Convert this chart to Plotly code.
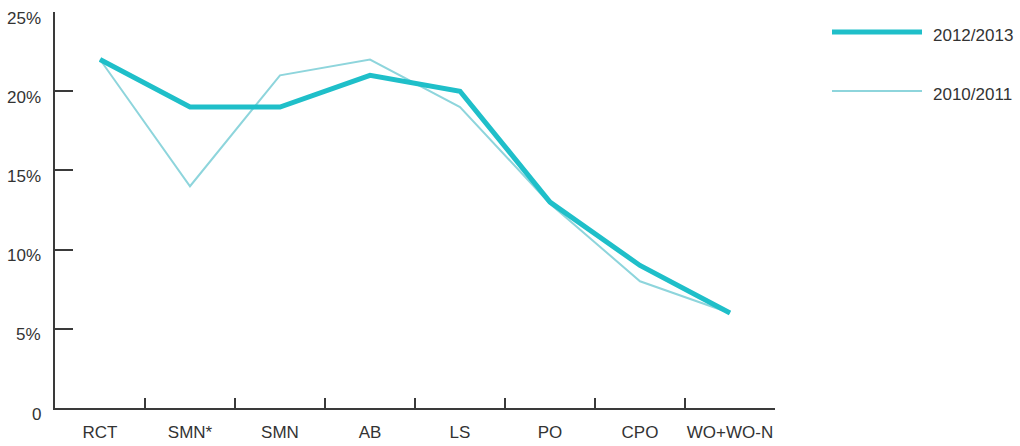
import plotly.graph_objects as go

categories = ["RCT", "SMN*", "SMN", "AB", "LS", "PO", "CPO", "WO+WO-N"]
share_2012_2013 = [22, 19, 19, 21, 20, 13, 9, 6]
share_2010_2011 = [22, 14, 21, 22, 19, 12.9, 8, 6]

y_ticks = [0, 5, 10, 15, 20, 25]
y_tick_labels = ["0", "5%", "10%", "15%", "20%", "25%"]

THICK = "#1fbfc9"
THIN = "#8ed5dc"
AXIS = "#3a3a3a"
TEXT = "#333"
FONT = "Liberation Sans"

fig = go.Figure()

fig.add_trace(go.Scatter(
    x=categories, y=share_2010_2011, mode="lines",
    line=dict(color=THIN, width=2), name="2010/2011", showlegend=False,
))
fig.add_trace(go.Scatter(
    x=categories, y=share_2012_2013, mode="lines",
    line=dict(color=THICK, width=5), name="2012/2013", showlegend=False,
))

# y tick labels sit a little below their ticks in the original, so place them by hand
for val, label in zip(y_ticks, y_tick_labels):
    fig.add_annotation(text=label, xref="paper", yref="y", x=0, y=val,
                       xanchor="right", yanchor="middle", xshift=-12, yshift=-6,
                       showarrow=False, font=dict(family=FONT, size=17, color=TEXT))

# legend drawn by hand: long line swatches like the original
legend_items = [("2012/2013", THICK, 5, 32), ("2010/2011", THIN, 2, 91)]
for label, color, width, ypx in legend_items:
    fig.add_shape(type="line", xref="paper", yref="paper",
                  x0=(832 - 55) / 720, x1=(922 - 55) / 720,
                  y0=(408 - ypx) / 396, y1=(408 - ypx) / 396,
                  line=dict(color=color, width=width))
    fig.add_annotation(text=label, xref="paper", yref="paper",
                       x=(931 - 55) / 720, y=(408 - ypx - 4) / 396,
                       xanchor="left", yanchor="middle", showarrow=False,
                       font=dict(family=FONT, size=17, color=TEXT))

fig.update_layout(
    width=1020, height=446,
    margin=dict(l=55, r=245, t=12, b=38),
    paper_bgcolor="white", plot_bgcolor="white",
    font=dict(family=FONT, size=17, color=TEXT),
    xaxis=dict(
        type="category", range=[-0.5, 7.5],
        showline=True, linecolor=AXIS, linewidth=1.5,
        ticks="inside", tickson="boundaries", ticklen=10,
        tickcolor=AXIS, tickwidth=1.5,
        showgrid=False, zeroline=False,
        tickangle=0, automargin=False, ticklabelstandoff=8,
        tickfont=dict(size=17),
    ),
    yaxis=dict(
        range=[0, 25],
        tickvals=y_ticks, showticklabels=False,
        showline=True, linecolor=AXIS, linewidth=1.5,
        ticks="inside", ticklen=18, tickcolor=AXIS, tickwidth=1.5,
        showgrid=False, zeroline=False, automargin=False,
    ),
)

# the page's default 8px body margin would push the figure off the window
fig.write_html("out.html", config={"displayModeBar": False},
               post_script="document.body.style.margin='0';")
